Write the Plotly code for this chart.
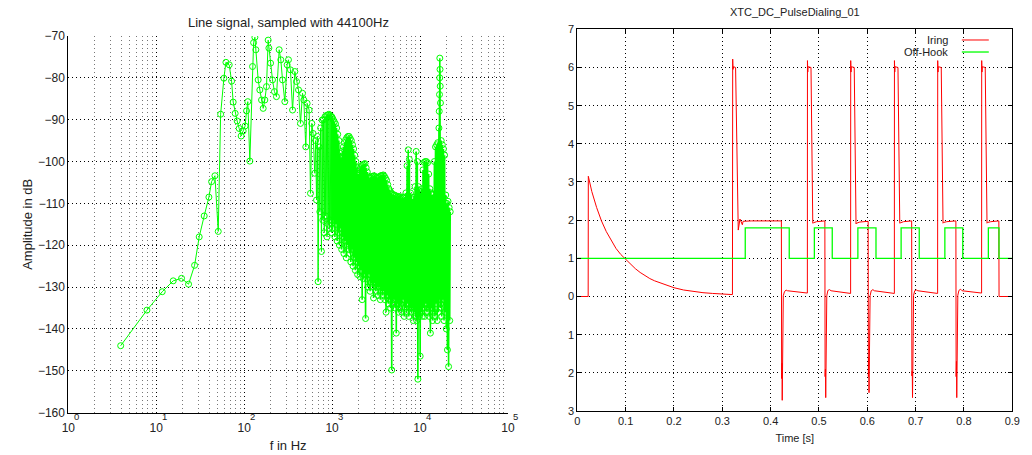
import plotly.graph_objects as go

# ---------------- Left chart: spectrum ----------------
low_f = [3.94, 7.84, 11.7, 15.6, 19.4, 23.3, 27.3, 30.8, 35.1, 39.7,
         42.6, 46.5, 50.7, 54.0, 58.8, 62.0, 67.6, 71.9, 75.0, 79.0,
         83.2, 87.7, 92.4, 97.4, 102.6, 106.4, 110.0, 116.0, 124.5, 128,
         132.4, 135.8, 144.3, 150.7, 157.6, 164.5, 171.8, 179.5, 187.4, 191,
         199.5, 210, 221, 233, 250, 261, 273, 290, 308, 319,
         336, 355, 377, 394, 415, 437, 461, 477, 502, 520,
         548]
low_db = [-144.0, -135.5, -131.1, -128.5, -127.9, -129.3, -124.8, -118, -113, -108.5,
          -104.8, -103.4, -116.7, -88.7, -80.1, -76.3, -76.9, -80.8, -85.8, -88.5,
          -90.3, -92.1, -93.9, -92.7, -91.5, -87.9, -85.7, -99.9, -77.3, -71.6,
          -70.3, -73.3, -80.5, -82.9, -85.3, -87.3, -85.3, -82.1, -71.0, -72.9,
          -76.5, -80.5, -83.3, -84.5, -73.3, -75.7, -80.5, -85.7, -76.9, -75.7,
          -78.1, -87.7, -78.5, -80.9, -82.9, -90.9, -83.7, -85.3, -96.5, -86.1,
          -87.7]

mid_f = [568, 588, 608, 635, 650, 665, 680, 693, 712, 725,
         740, 757, 770, 785, 800, 815, 830, 845, 860, 875,
         890, 905, 920, 935, 950, 965, 980, 990]
mid_db = [-107.6, -90.9, -93.3, -102.8, -95, -109.2, -94, -128.7, -96.5, -112,
          -92, -121.5, -90.1, -114, -90, -117, -89.3, -113, -89, -118,
          -88.9, -115, -88.7, -116, -89, -114, -89.2, -117]

dense_f = [1000, 1015, 1030, 1045, 1060, 1076, 1092, 1108, 1125, 1142,
           1159, 1176, 1194, 1212, 1230, 1248, 1267, 1286, 1305, 1325,
           1345, 1365, 1385, 1406, 1427, 1448, 1470, 1492, 1515, 1538,
           1561, 1584, 1608, 1632, 1656, 1681, 1706, 1732, 1758, 1784,
           1811, 1838, 1866, 1894, 1922, 1951, 1980, 2010, 2040, 2071,
           2102, 2133, 2165, 2198, 2231, 2264, 2298, 2333, 2368, 2403,
           2439, 2476, 2513, 2551, 2589, 2628, 2667, 2707, 2748, 2789,
           2831, 2873, 2916, 2960, 3004, 3049, 3095, 3141, 3189, 3236,
           3285, 3334, 3384, 3435, 3487, 3539, 3592, 3646, 3701, 3756,
           3813, 3870, 3928, 3987, 4046, 4107, 4169, 4231, 4295, 4359,
           4424, 4491, 4558, 4627, 4696, 4766, 4838, 4910, 4984, 5059,
           5135, 5212, 5290, 5369, 5450, 5531, 5614, 5698, 5784, 5871,
           5959, 6048, 6139, 6231, 6325, 6420, 6516, 6614, 6713, 6814,
           6916, 7020, 7125, 7232, 7340, 7450, 7562, 7675, 7790, 7907,
           8026, 8146, 8269, 8393, 8519, 8646, 8776, 8908, 9041, 9177,
           9315, 9454, 9596, 9740, 9886, 10035, 10185, 10338, 10493, 10650,
           10810, 10972, 11137, 11304, 11474, 11646, 11821, 11998, 12178, 12361,
           12546, 12734, 12925, 13119, 13316, 13516, 13718, 13924, 14133, 14345,
           14560, 14779, 15000, 15225, 15454, 15686, 15921, 16160]
dense_db = [-89.5, -116, -90, -114, -90.5, -118, -91, -115, -92, -119,
            -93.5, -117, -95, -120, -98, -116, -99, -121, -97.5, -118,
            -96.5, -122, -95.5, -119, -94.8, -123, -94.3, -120, -94, -121,
            -94, -122, -94.5, -124, -95, -121, -96, -125, -97, -123,
            -98.5, -126, -100, -124, -101.5, -127, -103, -125, -102, -127.5,
            -101.5, -126, -101, -133, -100.8, -128, -100.6, -127, -100.5, -137.5,
            -101.5, -128, -102.5, -130, -103.5, -127, -104, -131, -103.8, -129,
            -103.6, -130, -103.5, -132.6, -103.4, -129, -103.6, -131, -103.8, -130,
            -104, -132, -103.8, -130, -103.5, -133, -103.4, -131, -103.3, -132,
            -103.2, -131, -103.5, -133, -104, -136, -104.5, -132, -105.5, -134,
            -106.5, -133, -107, -135, -107.5, -149.8, -107.8, -134, -108, -133,
            -108, -135, -108.2, -141, -108.5, -134, -108.3, -136, -108.6, -135,
            -108.4, -134, -108.8, -136, -108.5, -133, -108.7, -137, -108.5, -135,
            -107.5, -136, -101, -134, -97.2, -137, -99.5, -135, -107.5, -136,
            -108.5, -135, -109, -138, -108.5, -136, -106, -137, -97.6, -138,
            -100, -152, -106, -137, -107, -146.5, -107.5, -136, -106.5, -137,
            -102, -135, -100.2, -137, -100, -134, -100, -136, -100.3, -135,
            -103, -137, -106.5, -141, -107.5, -135, -108, -138, -107.8, -136,
            -100, -137, -96.5, -134, -96, -138, -95.5, -136]

spike_f = [16402, 16470, 16540, 16600, 16650, 16700, 16745, 16790, 16835, 16880,
           16925, 16970, 17020, 17080]
spike_db = [-92, -133, -88, -131, -84, -130, -80, -75.3, -128, -78,
            -132, -82, -135, -86]

high_f = [17151, 17409, 17670, 17935, 18204, 18477, 18754, 19035, 19321,
          19611, 19905, 20204, 20507, 20814, 21126, 21443, 21765, 22050]
high_db = [-134, -95, -137, -96, -133, -97, -138, -98.5, -136,
           -108, -140, -110, -145, -109.5, -149, -111, -138, -112]

sparse_f = low_f + mid_f + dense_f[:1]
sparse_db = low_db + mid_db + dense_db[:1]
busy_f = dense_f + spike_f + high_f
busy_db = dense_db + spike_db + high_db

decade_vals = [1, 10, 100, 1000, 10000, 100000]
decade_base = ["10", "10", "10", "10", "10", "10"]
decade_exp = ["0", "1", "2", "3", "4", "5"]
db_ticks = [-160, -150, -140, -130, -120, -110, -100, -90, -80, -70]

# ---------------- Right chart: pulse dialing ----------------
decay_t = [0.0, 0.0225, 0.0228, 0.03, 0.04, 0.05, 0.06, 0.07, 0.08, 0.09,
           0.10, 0.11, 0.12, 0.13, 0.14, 0.15, 0.16, 0.18, 0.20, 0.22,
           0.24, 0.26, 0.28, 0.30, 0.321]
decay_i = [0, 0, 3.15, 2.75, 2.33, 1.98, 1.70, 1.46, 1.26, 1.10,
           0.97, 0.84, 0.73, 0.63, 0.54, 0.47, 0.41, 0.31, 0.23, 0.17,
           0.13, 0.10, 0.08, 0.06, 0.05]
p1_t = [0.3215, 0.3222, 0.3228, 0.3275, 0.333, 0.3365, 0.339, 0.3415, 0.343, 0.36, 0.40, 0.4222]
p1_i = [6.22, 5.95, 6.02, 6.0, 1.74, 2.03, 1.97, 1.88, 1.97, 1.98, 1.98, 1.98]
n1_t = [0.4228, 0.4235, 0.4240, 0.4246, 0.4252, 0.4262, 0.4285, 0.4320, 0.4350, 0.4760]
n1_i = [-2.15, -1.75, -2.72, -1.8, 0.0, 0.02, 0.12, 0.17, 0.15, 0.09]
p2_t = [0.4762, 0.4768, 0.4775, 0.4835, 0.4872, 0.4885, 0.4950, 0.5122]
p2_i = [6.18, 5.88, 6.02, 6.0, 1.92, 1.93, 1.96, 1.98]
n2_t = [0.5127, 0.5134, 0.5140, 0.5146, 0.5152, 0.5162, 0.5185, 0.5220, 0.5250, 0.5655]
n2_i = [-2.1, -1.9, -2.65, -2.0, 0.0, 0.02, 0.16, 0.18, 0.15, 0.08]
p3_t = [0.5657, 0.5663, 0.5670, 0.5730, 0.5767, 0.5780, 0.5845, 0.6018]
p3_i = [6.18, 5.88, 6.02, 6.0, 1.90, 1.92, 1.95, 1.97]
n3_t = [0.6023, 0.6030, 0.6036, 0.6042, 0.6048, 0.6058, 0.6081, 0.6116, 0.6146, 0.6560]
n3_i = [-2.1, -1.6, -2.52, -1.9, 0.0, 0.02, 0.15, 0.18, 0.15, 0.08]
p4_t = [0.6562, 0.6568, 0.6575, 0.6635, 0.6672, 0.6685, 0.6750, 0.6918]
p4_i = [6.18, 5.88, 6.02, 6.0, 1.92, 1.93, 1.96, 1.98]
n4_t = [0.6923, 0.6930, 0.6936, 0.6942, 0.6948, 0.6958, 0.6981, 0.7016, 0.7046, 0.7455]
n4_i = [-2.08, -1.95, -2.65, -2.0, 0.0, 0.03, 0.15, 0.17, 0.15, 0.08]
p5_t = [0.7457, 0.7463, 0.7470, 0.7530, 0.7567, 0.7580, 0.7645, 0.7833]
p5_i = [6.18, 5.88, 6.02, 6.0, 1.92, 1.94, 1.96, 1.98]
n5_t = [0.7838, 0.7845, 0.7851, 0.7857, 0.7863, 0.7873, 0.7896, 0.7931, 0.7961, 0.8365]
n5_i = [-2.1, -1.7, -2.65, -1.9, 0.0, 0.03, 0.16, 0.19, 0.15, 0.09]
p6_t = [0.8367, 0.8373, 0.8380, 0.8440, 0.8477, 0.8490, 0.8555, 0.8722]
p6_i = [6.18, 5.88, 6.02, 6.0, 1.92, 1.94, 1.96, 1.98]
end_t = [0.8726, 0.90]
end_i = [0, 0]

iring_t = decay_t + p1_t + n1_t + p2_t + n2_t + p3_t + n3_t + p4_t + n4_t + p5_t + n5_t + p6_t + end_t
iring_i = decay_i + p1_i + n1_i + p2_i + n2_i + p3_i + n3_i + p4_i + n4_i + p5_i + n5_i + p6_i + end_i

hook_t = [0, 0.3475, 0.4385, 0.4905, 0.5275, 0.5805, 0.618, 0.670, 0.7075, 0.7605, 0.7975, 0.8505, 0.8725, 0.9]
hook_v = [1, 1.8, 1, 1.8, 1, 1.8, 1, 1.8, 1, 1.8, 1, 1.8, 1, 1]

y2_vals = [-3, -2, -1, 0, 1, 2, 3, 4, 5, 6, 7]
y2_text = ["3", "2", "1", "0", "1", "2", "3", "4", "5", "6", "7"]
x2_vals = [0, 0.1, 0.2, 0.3, 0.4, 0.5, 0.6, 0.7, 0.8, 0.9]
x2_text = ["0", "0.1", "0.2", "0.3", "0.4", "0.5", "0.6", "0.7", "0.8", "0.9"]

FONT = "Liberation Sans, Arial, sans-serif"
DOT = "1px,3px"
GREEN = "#00ff00"
RED = "#ff0000"

fig = go.Figure()
marker_style = dict(symbol="circle-open", size=6, color=GREEN, line=dict(width=1, color=GREEN))
fig.add_trace(go.Scatter(
    x=sparse_f, y=sparse_db, mode="lines+markers", xaxis="x", yaxis="y",
    line=dict(color=GREEN, width=1), marker=marker_style,
    showlegend=False, hoverinfo="skip"))
fig.add_trace(go.Scatter(
    x=busy_f, y=busy_db, mode="lines+markers", xaxis="x", yaxis="y",
    line=dict(color=GREEN, width=1.6), marker=marker_style,
    showlegend=False, hoverinfo="skip"))
fig.add_trace(go.Scatter(
    x=iring_t, y=iring_i, mode="lines", xaxis="x2", yaxis="y2", name="Iring",
    line=dict(color=RED, width=1), showlegend=False, hoverinfo="skip"))
fig.add_trace(go.Scatter(
    x=hook_t, y=hook_v, mode="lines", xaxis="x2", yaxis="y2", name="Off-Hook",
    line=dict(color=GREEN, width=1.3, shape="hv"), showlegend=False, hoverinfo="skip"))

minor_vals = [m * d for d in decade_vals[:-1] for m in range(2, 10)]

annotations = [
    dict(text="Line signal, sampled with 44100Hz", xref="x domain", yref="paper",
         x=0.5, y=1 - 22 / 455, xanchor="center", yanchor="middle",
         showarrow=False, font=dict(size=13)),
    dict(text="XTC_DC_PulseDialing_01", xref="x2 domain", yref="paper",
         x=0.5, y=1 - 12 / 455, xanchor="center", yanchor="middle",
         showarrow=False, font=dict(size=11)),
    dict(text="Iring", xref="x2 domain", yref="y2 domain", x=0.857, y=0.972,
         xanchor="right", yanchor="middle", showarrow=False, font=dict(size=11)),
    dict(text="Off-Hook", xref="x2 domain", yref="y2 domain", x=0.857, y=0.9405,
         xanchor="right", yanchor="middle", showarrow=False, font=dict(size=11)),
]
# exponent part of the "10^n" decade labels (placed like the original's raised digit)
for e in decade_exp:
    annotations.append(dict(text=e, xref="x", yref="paper", x=int(e),
                            y=1 - 416.5 / 455, xanchor="center", yanchor="middle",
                            xshift=8, showarrow=False, font=dict(size=9.5),
                            borderpad=0))

fig.update_layout(
    width=1032, height=455,
    margin=dict(l=0, r=0, t=0, b=0, autoexpand=False),
    paper_bgcolor="white", plot_bgcolor="white",
    font=dict(family=FONT, size=12, color="#222"),
    xaxis=dict(
        type="log", domain=[0.0662, 0.4922], range=[0, 5], anchor="y", automargin=False,
        tickmode="array", tickvals=decade_vals, ticktext=decade_base,
        showline=True, linecolor="black", linewidth=1, ticks="",
        ticklabelstandoff=4,
        showgrid=True, gridcolor="black", griddash=DOT, gridwidth=1,
        minor=dict(tickmode="array", tickvals=minor_vals, showgrid=True,
                   gridcolor="#777", griddash=DOT, gridwidth=1, ticks=""),
        zeroline=False, tickfont=dict(size=12),
        title=dict(text="f in Hz", font=dict(size=13), standoff=6),
    ),
    yaxis=dict(
        domain=[0.093, 0.921], range=[-160, -70], anchor="x", automargin=False,
        tickmode="array", tickvals=db_ticks,
        showline=True, linecolor="black", linewidth=1, ticks="",
        showgrid=True, gridcolor="black", griddash=DOT, gridwidth=1,
        zeroline=False, tickfont=dict(size=12),
        title=dict(text="Amplitude in dB", font=dict(size=13), standoff=2),
    ),
    xaxis2=dict(
        domain=[0.5594, 0.9809], range=[0, 0.9], anchor="y2", automargin=False,
        tickmode="array", tickvals=x2_vals, ticktext=x2_text,
        showline=True, linecolor="black", linewidth=1, mirror="ticks",
        ticks="inside", ticklen=4, tickcolor="black",
        showgrid=True, gridcolor="black", griddash=DOT, gridwidth=1,
        zeroline=False, tickfont=dict(size=11),
        title=dict(text="Time [s]", font=dict(size=11), standoff=8),
    ),
    yaxis2=dict(
        domain=[0.0967, 0.9356], range=[-3, 7], anchor="x2", automargin=False,
        tickmode="array", tickvals=y2_vals, ticktext=y2_text,
        showline=True, linecolor="black", linewidth=1, mirror="ticks",
        ticks="inside", ticklen=4, tickcolor="black",
        showgrid=True, gridcolor="black", griddash=DOT, gridwidth=1,
        zeroline=False, tickfont=dict(size=11),
    ),
    annotations=annotations,
    shapes=[
        dict(type="line", xref="x2 domain", yref="y2 domain", x0=0.884, x1=0.946,
             y0=0.972, y1=0.972, line=dict(color=RED, width=1)),
        dict(type="line", xref="x2 domain", yref="y2 domain", x0=0.884, x1=0.946,
             y0=0.9405, y1=0.9405, line=dict(color=GREEN, width=1.3)),
    ],
)

fig.write_html("out.html", config={"displayModeBar": False},
               post_script="document.body.style.margin='0';")
